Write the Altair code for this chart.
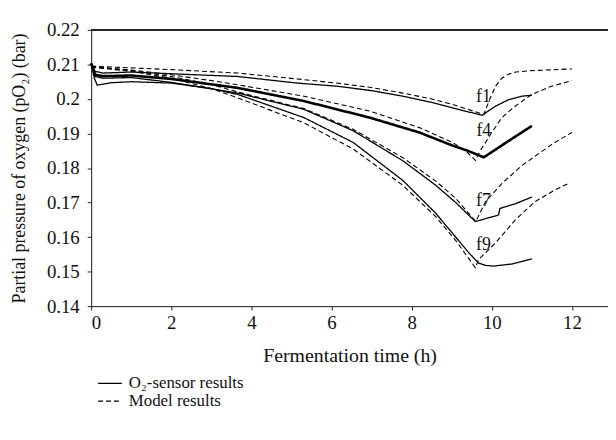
import altair as alt
import pandas as pd

SENSOR = "O₂-sensor results"
MODEL = "Model results"

# ---- sensor curves (time h, pO2 bar) ----
f1_s_t = [0, 0.1, 0.3, 1, 2, 3.66, 5.14, 6.13, 7.0, 7.78, 8.5, 9.02, 9.4, 9.76, 10.09, 10.42, 10.75, 11.0]
f1_s_v = [0.2103, 0.2080, 0.2075, 0.2078, 0.2073, 0.2065, 0.2046, 0.2037, 0.2024, 0.2008, 0.1990, 0.1974, 0.1963, 0.1953, 0.1979, 0.1998, 0.2008, 0.2011]

f4_s_t = [0, 0.1, 0.3, 1, 2, 3.66, 5.31, 6.95, 8.19, 9.02, 9.4, 9.8, 10.4, 11.0]
f4_s_v = [0.2103, 0.2070, 0.2066, 0.2068, 0.2058, 0.2032, 0.1994, 0.1946, 0.1903, 0.1865, 0.1850, 0.1831, 0.1877, 0.1922]

f7_s_t = [0, 0.1, 0.3, 1, 2, 3.66, 5.31, 6.54, 7.78, 8.6, 9.1, 9.59, 10.17, 10.2, 10.6, 11.0]
f7_s_v = [0.2103, 0.2065, 0.2060, 0.2062, 0.2048, 0.2017, 0.1970, 0.1908, 0.1821, 0.1750, 0.1700, 0.1645, 0.1664, 0.1683, 0.1697, 0.1716]

f9_s_t = [0, 0.08, 0.15, 0.5, 1, 2, 3.0, 3.66, 5.31, 6.54, 7.78, 8.6, 9.43, 9.67, 9.84, 10.04, 10.5, 11.0]
f9_s_v = [0.2103, 0.2060, 0.2040, 0.2047, 0.2050, 0.2046, 0.2030, 0.2013, 0.1946, 0.1874, 0.1764, 0.1669, 0.1554, 0.1525, 0.1518, 0.1516, 0.1522, 0.1537]

# ---- model curves ----
f1_m_t = [0, 1, 2, 3.66, 5.14, 6.13, 7.0, 7.78, 8.5, 9.02, 9.4, 9.8, 9.95, 10.1, 10.25, 10.4, 10.6, 11.0, 12.0]
f1_m_v = [0.2095, 0.2090, 0.2085, 0.2075, 0.2058, 0.2046, 0.2033, 0.2017, 0.2000, 0.1984, 0.1970, 0.1955, 0.2000, 0.2038, 0.2060, 0.2071, 0.2078, 0.2082, 0.2087]

f4_m_t = [0, 1, 2, 3, 3.66, 5.31, 6.95, 8.19, 9.02, 9.35, 9.59, 9.71, 10.0, 10.25, 10.58, 11.0, 11.49, 12.0]
f4_m_v = [0.2093, 0.2084, 0.2070, 0.2053, 0.2041, 0.2008, 0.1965, 0.1917, 0.1874, 0.1850, 0.1822, 0.1850, 0.1903, 0.1946, 0.1979, 0.2013, 0.2037, 0.2053]

f7_m_t = [0, 1, 2, 3, 3.66, 5.31, 6.54, 7.78, 8.6, 9.1, 9.6, 9.84, 10.25, 10.75, 11.16, 11.57, 12.0]
f7_m_v = [0.2093, 0.2082, 0.2065, 0.2042, 0.2020, 0.1972, 0.1912, 0.1830, 0.1762, 0.1712, 0.1645, 0.1702, 0.1755, 0.1807, 0.1841, 0.1874, 0.1903]

f9_m_t = [0, 1, 2, 3, 3.66, 5.31, 6.54, 7.78, 8.6, 9.1, 9.59, 9.67, 10.09, 10.58, 11.07, 11.57, 11.94]
f9_m_v = [0.2092, 0.2080, 0.2060, 0.2030, 0.2003, 0.1931, 0.1855, 0.1750, 0.1659, 0.1590, 0.1511, 0.1535, 0.1583, 0.1649, 0.1702, 0.1736, 0.1757]

# ---- curve labels ----
lab_text = ["f1", "f4", "f7", "f9"]
lab_t = [9.79, 9.8, 9.79, 9.79]
lab_v = [0.2006, 0.1906, 0.1705, 0.1576]

x_ticks = [0, 2, 4, 6, 8, 10, 12]
y_ticks = [0.14, 0.15, 0.16, 0.17, 0.18, 0.19, 0.2, 0.21, 0.22]

curves = [
    ("f1s", SENSOR, 1.3, f1_s_t, f1_s_v),
    ("f4s", SENSOR, 2.6, f4_s_t, f4_s_v),
    ("f7s", SENSOR, 1.3, f7_s_t, f7_s_v),
    ("f9s", SENSOR, 1.3, f9_s_t, f9_s_v),
    ("f1m", MODEL, 1.1, f1_m_t, f1_m_v),
    ("f4m", MODEL, 1.1, f4_m_t, f4_m_v),
    ("f7m", MODEL, 1.1, f7_m_t, f7_m_v),
    ("f9m", MODEL, 1.1, f9_m_t, f9_m_v),
]
rows = []
for cid, kind, w, ts, vs in curves:
    for t, v in zip(ts, vs):
        rows.append({"curve": cid, "kind": kind, "w": w, "t": t, "v": v})
df = pd.DataFrame(rows)
labels = pd.DataFrame({"text": lab_text, "t": lab_t, "v": lab_v})

FONT = "Liberation Serif"

xscale = alt.Scale(domain=[0, 12.9], nice=False, zero=False)
yscale = alt.Scale(domain=[0.14, 0.22], nice=False, zero=False)

xaxis = alt.Axis(
    values=x_ticks, title="Fermentation time (h)", grid=False,
    tickSize=4, labelPadding=4, labelFont=FONT, labelFontSize=19, labelOverlap=False,
    titleFont=FONT, titleFontSize=20, titleFontWeight="normal",
    titleBaseline="alphabetic", titleY=56,
    domainColor="#222", tickColor="#222", labelColor="#111", titleColor="#111")
yaxis = alt.Axis(
    values=y_ticks, format="~g", title="Partial pressure of oxygen (pO₂) (bar)",
    grid=False, tickSize=4, labelPadding=8, labelFont=FONT, labelFontSize=19,
    labelOverlap=False, tickCount=9,
    titleFont=FONT, titleFontSize=18, titleFontWeight="normal",
    titleX=-67, titleBaseline="alphabetic",
    domainColor="#222", tickColor="#222", labelColor="#111", titleColor="#111")

lines = alt.Chart(df).mark_line(color="black").encode(
    x=alt.X("t:Q", scale=xscale, axis=xaxis),
    y=alt.Y("v:Q", scale=yscale, axis=yaxis),
    strokeDash=alt.StrokeDash("kind:N", scale=alt.Scale(
        domain=[SENSOR, MODEL], range=[[1, 0], [5, 3]]),
        legend=alt.Legend(title=None, orient="none", legendX=10, legendY=348,
                          symbolType="M-1.5,0H1.5", symbolSize=256, symbolStrokeWidth=1.2,
                          symbolStrokeColor="black", symbolFillColor="transparent",
                          labelFont=FONT, labelFontSize=17,
                          labelColor="#111", labelOffset=10, rowPadding=1, padding=0)),
    strokeWidth=alt.StrokeWidth("w:Q", scale=None, legend=None),
    detail="curve:N",
)

top = alt.Chart(labels).mark_rule(color="#222", strokeWidth=1.2).encode(
    y=alt.YDatum(0.22, scale=yscale, axis=yaxis))

text = alt.Chart(labels).mark_text(font=FONT, fontSize=18, color="#111",
                                   align="center", baseline="middle").encode(
    x=alt.X("t:Q", scale=xscale, axis=xaxis),
    y=alt.Y("v:Q", scale=yscale, axis=yaxis),
    text="text:N")

chart = alt.layer(lines, top, text).properties(
    width=522, height=279,
    autosize=alt.AutoSizeParams(type="none"),
    padding={"left": 84, "top": 20, "right": 0, "bottom": 125},
).configure_view(stroke=None).configure(background="white")

chart.save("out.html", embed_options={"renderer": "svg", "actions": False})
